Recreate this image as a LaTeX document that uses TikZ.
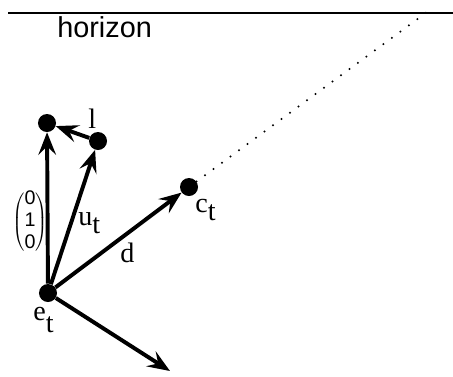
\documentclass[tikz,border=0pt]{standalone}
\usepackage{fontspec}
\setmainfont{Liberation Serif}
\newfontfamily\horizonfont{Liberation Sans}
\usetikzlibrary{arrows.meta}
\newcommand{\lowt}{\raisebox{-6pt}{t}}

\begin{document}
\begin{tikzpicture}[x=0.025cm,y=-0.025cm,
    >={Stealth[length=16pt,width=12.5pt,inset=6pt]},
    point/.style={circle,fill,inner sep=0pt,minimum size=0.45cm},
    vec/.style={->,line width=2.8pt},
    lbl/.style={font=\fontsize{20}{22}\selectfont,inner sep=0pt,anchor=base west}]
  \useasboundingbox (0,0) rectangle (453,376);
  % Horizon.
  \draw[line width=1.4pt] (8,13) -- (453,13);
  \node[anchor=base west,inner sep=0pt,
        font=\horizonfont\fontsize{20.5}{22}\selectfont] (horizon) at (57,37) {horizon};
  % Points: eye, up, look-at, centre.
  \node[point] (e) at (48,293) {};
  \node[point] (up) at (47,123) {};
  \node[point] (l) at (98,141) {};
  \node[point] (c) at (189,187) {};
  \coordinate (r) at (170,371);
  \coordinate (far) at (427,12);
  % Line of sight, out to the horizon.
  \draw[line width=1.6pt,line cap=round,dash pattern=on 0pt off 7.5pt] (c) -- (far);
  % Vectors.
  \draw[vec] (e) -- (up);
  \draw[vec] (e) -- (l);
  \draw[vec] (l) -- (up);
  \draw[vec] (e) -- (c);
  \draw[vec] (e) -- (r);
  % Labels.
  \node[lbl] (lbl-l) at (88,128) {l};
  \node[lbl] (lbl-u) at (78,225) {u\lowt};
  \node[lbl] (lbl-d) at (120,262) {d};
  \node[lbl] (lbl-c) at (195,212) {c\lowt};
  \node[lbl] (lbl-e) at (33,320) {e\raisebox{-9pt}{t}};
  \node[inner sep=0pt] (lbl-up) at (30,222)
    {\fontsize{14}{15.5}\selectfont$\left(\begin{array}{@{}c@{}}
      \mbox{\horizonfont 0}\\\mbox{\horizonfont 1}\\\mbox{\horizonfont 0}
     \end{array}\right)$};
\end{tikzpicture}
\end{document}
